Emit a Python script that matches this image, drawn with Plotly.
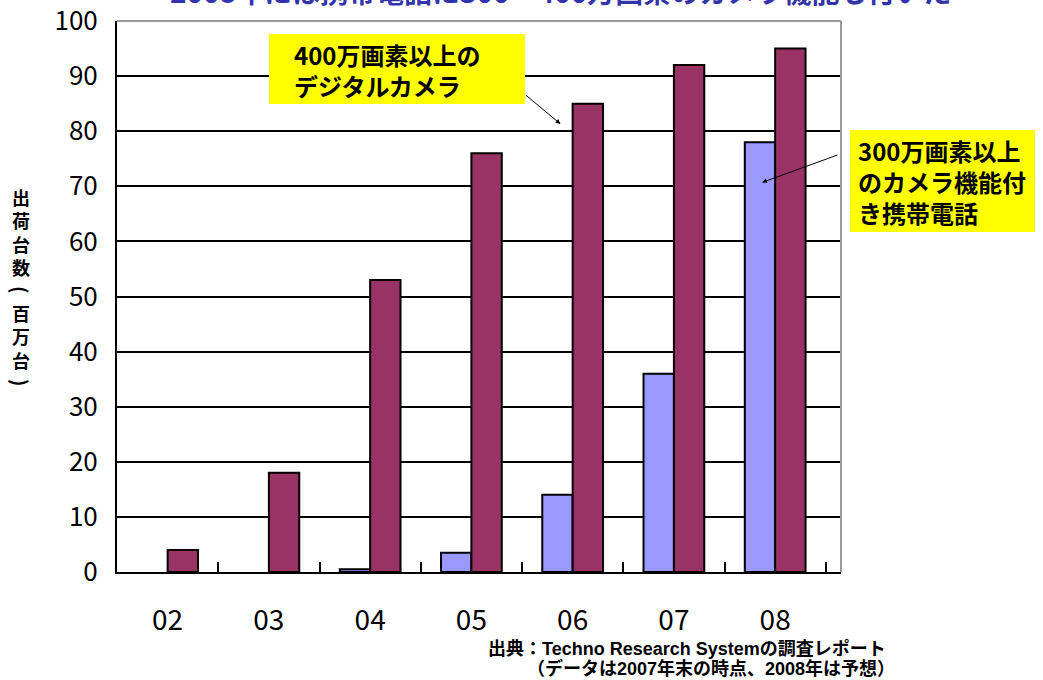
import plotly.graph_objects as go

categories = ["02", "03", "04", "05", "06", "07", "08"]
phone_cam = [None, None, 0.5, 3.5, 14, 36, 78]
digital_cam = [4, 18, 53, 76, 85, 92, 95]
y_ticks = list(range(0, 101, 10))

FONT = "Liberation Sans Narrow, Noto Sans CJK JP, sans-serif"
JP = "Noto Sans CJK JP, sans-serif"
NOTE = "Liberation Sans, Noto Sans CJK JP, sans-serif"

L, R, T, B = 117, 841, 21, 572
PW, PH = R - L, B - T

fig = go.Figure()
fig.add_trace(go.Bar(x=categories, y=phone_cam, name="phone",
                     marker=dict(color="#9999ff", line=dict(color="black", width=2))))
fig.add_trace(go.Bar(x=categories, y=digital_cam, name="camera",
                     marker=dict(color="#993366", line=dict(color="black", width=2))))

fig.update_layout(
    width=1043, height=680,
    margin=dict(l=L, r=1043 - R, t=T, b=680 - B),
    paper_bgcolor="white", plot_bgcolor="white",
    showlegend=False, barmode="group", bargap=0.4, bargroupgap=0,
    font=dict(family=FONT, color="black"),
)
fig.update_xaxes(
    type="category", showline=True, linecolor="black", linewidth=2,
    ticks="inside", tickson="boundaries", ticklen=10, tickcolor="black", tickwidth=2,
    tickfont=dict(size=28, family=FONT), ticklabelstandoff=22,
    showgrid=False, automargin=False,
)
fig.update_yaxes(
    range=[0, 100], tickvals=y_ticks, showline=True, linecolor="black", linewidth=2,
    ticks="inside", ticklen=7, tickcolor="black", tickwidth=2,
    tickfont=dict(size=26, family=FONT), ticklabelstandoff=12,
    showgrid=True, gridcolor="black", gridwidth=1.5, zeroline=False, automargin=False,
)

def px(x):
    return (x - L) / PW

def py(y):
    return (B - y) / PH

def text(x, y, s, size, family=JP, xanchor="left", angle=0, color="black"):
    fig.add_annotation(xref="paper", yref="paper", x=px(x), y=py(y), xanchor=xanchor,
                       yanchor="middle", text="<b>" + s + "</b>", showarrow=False,
                       textangle=angle, borderpad=0, align="left",
                       font=dict(family=family, size=size, color=color))

# gray top/right border
fig.add_shape(type="line", xref="paper", yref="paper", x0=0, x1=1, y0=1, y1=1,
              line=dict(color="#999999", width=2))
fig.add_shape(type="line", xref="paper", yref="paper", x0=1, x1=1, y0=0, y1=1,
              line=dict(color="#999999", width=2))

# clipped title
text(560, -9, "2008年には携帯電話に300～400万画素のカメラ機能も付いた", 28,
     xanchor="center", color="#3333aa")

# y-axis title, vertical
text(21, 232, "出<br>荷<br>台<br>数", 18, xanchor="center")
text(21, 290, "(", 20, xanchor="center", angle=90)
text(21, 336, "百<br>万<br>台", 18, xanchor="center")
text(21, 383, ")", 20, xanchor="center", angle=90)

# callout boxes
fig.add_shape(type="rect", xref="paper", yref="paper", x0=px(269), x1=px(525),
              y0=py(104), y1=py(34), fillcolor="#ffff00", line=dict(width=0))
text(293, 70, "400万画素以上の<br>デジタルカメラ", 24)

fig.add_shape(type="rect", xref="paper", yref="paper", x0=px(850), x1=px(1035),
              y0=py(232), y1=py(130), fillcolor="#ffff00", line=dict(width=0))
text(857, 182, "300万画素以上<br>のカメラ機能付<br>き携帯電話", 24)

# arrows
fig.add_annotation(x=3.88, y=81.3, xref="x", yref="y", text="", showarrow=True,
                   ax=-36, ay=-30, arrowhead=2, arrowsize=1, arrowwidth=1,
                   arrowcolor="black")
fig.add_annotation(x=5.87, y=70.7, xref="x", yref="y", text="", showarrow=True,
                   ax=77, ay=-28, arrowhead=2, arrowsize=1, arrowwidth=1,
                   arrowcolor="black")

# source note
text(487, 648, "出典：Techno Research Systemの調査レポート", 18, family=NOTE)
text(526, 668, "（データは2007年末の時点、2008年は予想）", 18, family=NOTE)

fig.write_html("out.html")
